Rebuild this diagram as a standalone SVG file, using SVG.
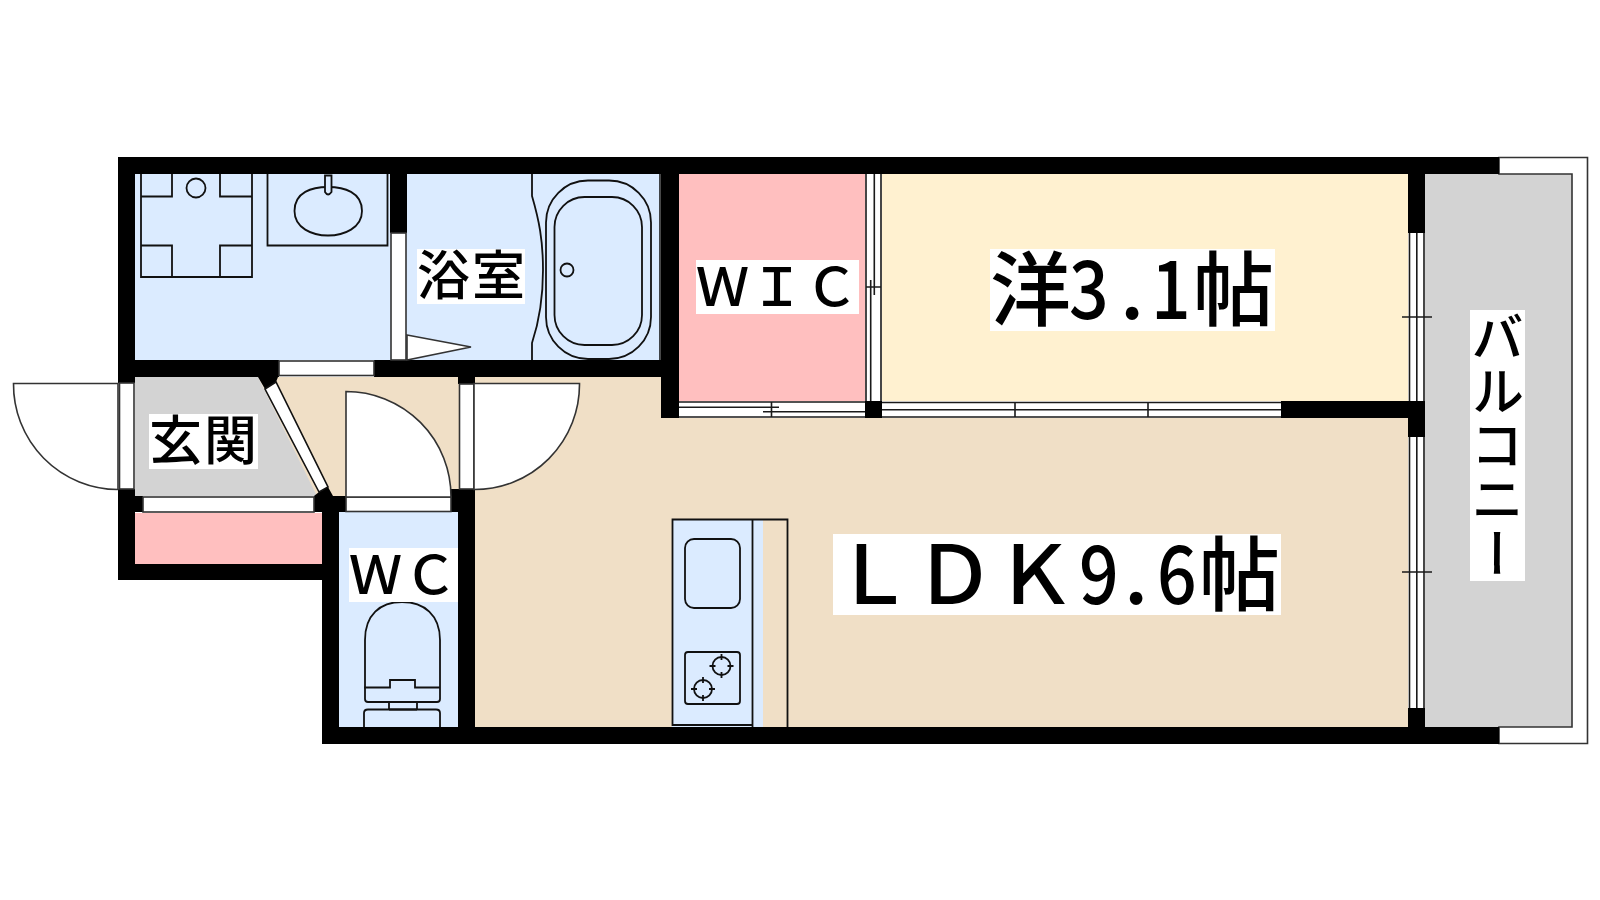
<svg xmlns="http://www.w3.org/2000/svg" width="1600" height="900" viewBox="0 0 1600 900">
<style>
.wall{fill:#000}
.ln{fill:none;stroke:#1a1a1a;stroke-width:1.6}
.w{fill:#fff;stroke:#333;stroke-width:1.6}
.fx{fill:none;stroke:#111;stroke-width:1.8}
.lb{fill:#fff}
text{font-family:"Noto Sans CJK JP","Liberation Sans",sans-serif;fill:#000;font-weight:500}
.s{font-size:53px}
.b{font-size:81px}
</style>
<rect width="1600" height="900" fill="#fff"/>
<g id="floors">
<rect x="135" y="174" width="525" height="186" fill="#dbebff"/>
<rect x="679" y="174" width="186" height="227" fill="#ffbfbf"/>
<rect x="882" y="174" width="526" height="227" fill="#fff1d0"/>
<path d="M258 377H661V418H1408V727H458V497H317Z" fill="#f0dfc6"/>
<path d="M135 377H258L317 496H135Z" fill="#d3d3d3"/>
<rect x="135" y="513" width="187" height="51" fill="#ffbfbf"/>
<rect x="339" y="512" width="119" height="215" fill="#dbebff"/>
<rect x="1425" y="174" width="147" height="553" fill="#d3d3d3"/>
</g>
<g id="balcony">
<path class="w" d="M1499 157.500H1587.500V743.500H1499V727H1572V174H1499Z"/>
</g>
<g id="walls" class="wall">
<rect x="118" y="157" width="1381" height="17"/>
<rect x="118" y="157" width="17" height="226"/>
<rect x="118" y="360" width="161" height="17"/>
<rect x="374" y="360" width="305" height="17"/>
<rect x="390" y="174" width="17" height="59"/>
<rect x="661" y="174" width="18" height="244"/>
<rect x="458" y="377" width="17" height="7"/>
<path d="M258 377H278L276 382L265 389Z"/>
<rect x="118" y="489" width="17" height="91"/>
<rect x="118" y="564" width="221" height="16"/>
<rect x="135" y="496" width="8" height="16"/>
<path d="M314 512V496L319 492L328 487L333 496H346V512Z"/>
<rect x="322" y="496" width="17" height="248"/>
<rect x="451" y="489" width="24" height="23"/>
<rect x="458" y="489" width="17" height="255"/>
<rect x="322" y="727" width="1177" height="17"/>
<rect x="1408" y="174" width="17" height="59"/>
<rect x="865" y="401" width="17" height="17"/>
<rect x="1281" y="401" width="144" height="17"/>
<rect x="1408" y="401" width="17" height="36"/>
<rect x="1408" y="708" width="17" height="19"/>
</g>
<g id="windows">
<rect class="w" x="279" y="361" width="95" height="14.500"/>
<rect class="w" x="391" y="233" width="15" height="127"/>
<rect class="w" x="119.500" y="383" width="14.500" height="106"/>
<rect class="w" x="143" y="497" width="171" height="15"/>
<rect class="w" x="346" y="497" width="105" height="14.500"/>
<rect class="w" x="459.500" y="384" width="14.500" height="105"/>
<path d="M265 389L276 382L328 487L319 492Z" fill="#fff" stroke="#111" stroke-width="1.600"/>
<g id="window-right">
<rect x="1409" y="233" width="15" height="168" fill="#fff"/>
<rect x="1409" y="437" width="15" height="271" fill="#fff"/>
<path class="ln" d="M1409.500 233V401M1416.800 233V401M1424 233V401M1409.500 437V708M1416.800 437V708M1424 437V708M1402 317H1432M1402 572H1432"/>
</g>
<g id="sliding-wic-right">
<rect x="866" y="174" width="15" height="227" fill="#fff"/>
<path class="ln" d="M866 174V401M881 174V401M874.300 174V295M870.700 280V401M866 287H881"/>
</g>
<g id="sliding-wic-bottom">
<rect x="679" y="402" width="186" height="15" fill="#fff"/>
<path class="ln" d="M679 402H865M679 417H865M679 407.300H779M763 411.700H865M771.500 402V417"/>
</g>
<g id="sliding-room-bottom">
<rect x="882" y="402" width="399" height="15" fill="#fff"/>
<path class="ln" d="M882 402.500H1281M882 409.700H1281M882 417H1281M1015 402V417M1148 402V417"/>
</g>
</g>
<g id="doors">
<path class="w" d="M118 383.500H13.500A105 105 0 0 0 118 489.500Z"/>
<path class="w" d="M346 391.500V497H451A105 105 0 0 0 346 391.500Z"/>
<path class="w" d="M474 383.500H579.500A105 105 0 0 1 474 489.500Z"/>
<path class="w" d="M407 335L471 347L407 360Z"/>
</g>
<g id="washer">
<path class="fx" d="M141 174V277H252V174M172 174V196.500H141M220 174V196.500H252M141 245.500H172V277M252 245.500H220V277"/>
<circle class="fx" cx="196" cy="188" r="9.500"/>
</g>
<g id="sink">
<path class="fx" d="M267.500 174V245.500H387.500V174"/>
<path d="M328 187C312 187 294.500 192 294.500 211C294.500 228 312 235.500 328 235.500C344 235.500 362 228 362 211C362 192 344 187 328 187Z" class="fx"/>
<path d="M325 175.500H331.500V192Q328 197 325 192Z" fill="#dbebff" stroke="#111" stroke-width="1.800"/>
</g>
<g id="bath">
<path class="fx" d="M532 174V196C539 220 543 240 543 270C543 300 539 322 532 343V360"/>
<rect class="fx" x="546" y="180.500" width="105" height="178.500" rx="42" ry="42"/>
<rect class="fx" x="554.500" y="197" width="87.500" height="148" rx="30" ry="30"/>
<circle class="fx" cx="567" cy="270" r="6.500"/>
<path class="ln" d="M660 174V360"/>
</g>
<g id="toilet">
<path class="fx" d="M365 687V640C365 615 380 602 402 602C424 602 440 615 440 640V687M364 687.500H390V680H415V687.500H440V699Q440 702 437 702H368Q365 702 365 699V687M389 702V709.500M417 702V709.500M389 709.500H417"/>
<path class="fx" d="M364 727V713Q364 709.500 368 709.500H436Q440 709.500 440 713V727"/>
</g>
<g id="kitchen">
<rect x="672" y="519" width="91" height="208" fill="#dbebff"/>
<path class="fx" d="M672.500 519.500H752.500V725H672.500ZM752.500 519.500H787.500V727M752.500 725V727"/>
<rect class="fx" x="685" y="539" width="55" height="69" rx="9"/>
<rect class="fx" x="685" y="652" width="55" height="52" rx="3"/>
<circle class="fx" cx="721.500" cy="666" r="9"/>
<circle class="fx" cx="703" cy="689" r="9"/>
<path class="fx" d="M721.500 654V660M721.500 672V678M709.500 666H715.500M727.500 666H733.500M703 677V683M703 695V701M691 689H697M709 689H715"/>
</g>
<g id="label-bath"><rect class="lb" x="417" y="249" width="108" height="55"/><text class="s" x="417" y="295" textLength="108">浴室</text></g>
<g id="label-entry"><rect class="lb" x="149" y="414" width="109" height="55"/><text class="s" x="149" y="460" textLength="108">玄関</text></g>
<g id="label-wic"><rect class="lb" x="696" y="260" width="163" height="54"/><text class="s" x="696" y="306" textLength="162">ＷＩＣ</text></g>
<g id="label-wc"><rect class="lb" x="349" y="548" width="109" height="54"/><text class="s" x="349" y="594" textLength="108">ＷＣ</text></g>
<g id="label-room"><rect class="lb" x="990" y="249" width="285" height="82"/><text class="b" x="990" y="319">洋</text><text class="b" transform="translate(1069 319) scale(.86 1)">3</text><text class="b" x="1120" y="319">.</text><text class="b" transform="translate(1151 319) scale(.86 1)">1</text><text class="b" x="1193" y="319">帖</text></g>
<g id="label-ldk"><rect class="lb" x="833" y="534" width="448" height="81"/><text class="b" y="604"><tspan x="833">Ｌ</tspan><tspan x="914">Ｄ</tspan><tspan x="995">Ｋ</tspan></text><text class="b" transform="translate(1079 604) scale(.86 1)">9</text><text class="b" x="1124" y="604">.</text><text class="b" transform="translate(1157 604) scale(.86 1)">6</text><text class="b" x="1199" y="604">帖</text></g>
<g id="label-balcony"><rect class="lb" x="1470" y="310" width="55" height="271"/><text class="s" x="1497.500" y="310" style="writing-mode:vertical-rl" textLength="270">バルコニー</text></g>
</svg>
